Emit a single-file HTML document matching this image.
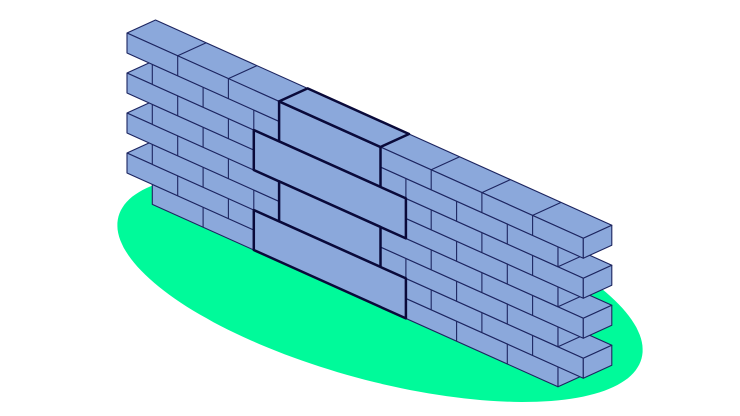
<!DOCTYPE html>
<html><head><meta charset="utf-8"><style>html,body{margin:0;padding:0;background:#fff;width:740px;height:416px;overflow:hidden}svg{display:block}</style></head>
<body>
<svg id="s" width="740" height="416" viewBox="0 0 740 416" xmlns="http://www.w3.org/2000/svg">
<g id="w"></g>
</svg>
<script>
(function(){
var g=document.getElementById('w');var out='';
var th=15.2*Math.PI/180,c=Math.cos(th),s=Math.sin(th),ep=[];
for(var i=0;i<180;i++){var t=i/180*2*Math.PI,x=271*Math.cos(t),y=93*Math.sin(t);ep.push((380+x*c-y*s).toFixed(1)+','+(287.5+x*s+y*c).toFixed(1));}
out+='<polygon points="'+ep.join(' ')+'" fill="#00fa9a"/>';
function pt(l,d,z){return [127+l*50.7+d*28.5, 33+l*22.8-d*13+z];}
function poly(ps,sw,col){out+='<polygon points="'+ps.map(function(p){return p[0].toFixed(1)+','+p[1].toFixed(1)}).join(' ')+'" fill="#8ba8db" stroke="'+col+'" stroke-width="'+sw+'" stroke-linejoin="round"/>';}
function line(a,b,sw,col){out+='<line x1="'+a[0].toFixed(1)+'" y1="'+a[1].toFixed(1)+'" x2="'+b[0].toFixed(1)+'" y2="'+b[1].toFixed(1)+'" stroke="'+col+'" stroke-width="'+sw+'"/>';}
var thin='#1d2560',tw=1.1;
for(var k=7;k>=0;k--){
 var a=(k%2==0)?0:0.5,b=(k%2==0)?9:8.5,zt=20*k,zb=zt+20;
 poly([pt(a,0,zt),pt(b,0,zt),pt(b,1,zt),pt(a,1,zt)],tw,thin);
 poly([pt(a,0,zt),pt(b,0,zt),pt(b,0,zb),pt(a,0,zb)],tw,thin);
 poly([pt(b,0,zt),pt(b,1,zt),pt(b,1,zb),pt(b,0,zb)],tw,thin);
 for(var j=a+1;j<b-0.01;j+=1){
  line(pt(j,0,zt),pt(j,0,zb),tw,thin);
  line(pt(j,0,zt),pt(j,1,zt),tw,thin);
 }
}
var thick='#0a0a3a',kw=2.5;
var blocks=[[3,5,0,40],[2.5,5.5,40,80],[3,5,80,120],[2.5,5.5,120,160]];
blocks.forEach(function(B){poly([pt(B[0],0,B[2]),pt(B[1],0,B[2]),pt(B[1],0,B[3]),pt(B[0],0,B[3])],kw,thick);});
poly([pt(3,0,0),pt(5,0,0),pt(5,1,0),pt(3,1,0)],kw,thick);
g.innerHTML=out;
})();
</script>
</body></html>
